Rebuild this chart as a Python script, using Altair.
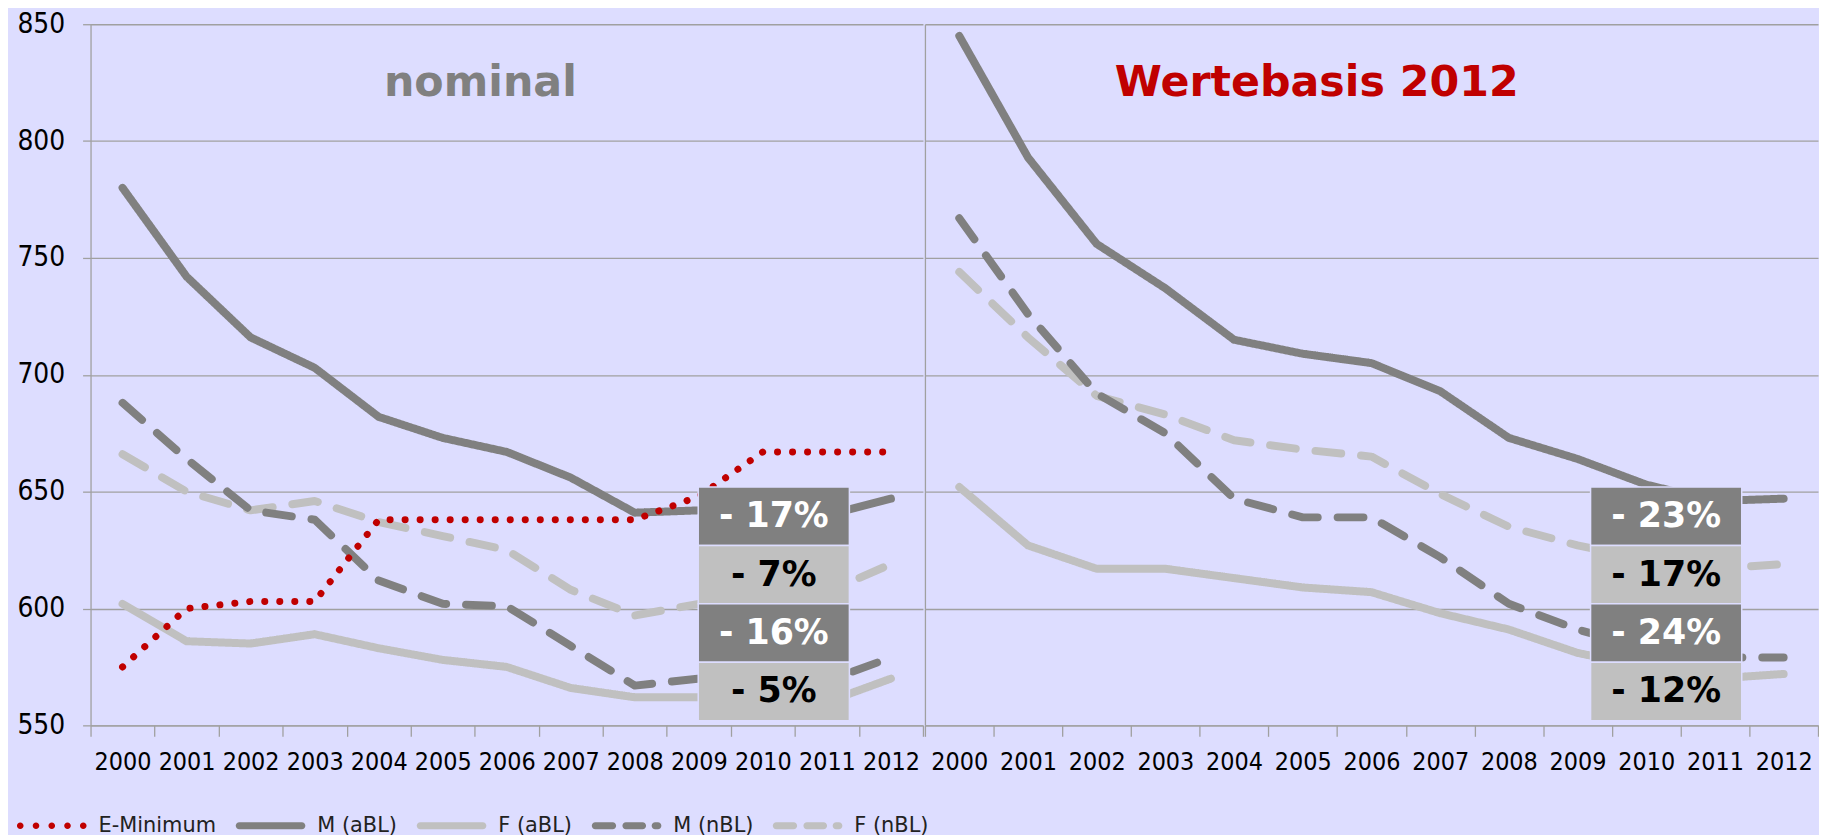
import altair as alt
import pandas as pd

# ---------------- data ----------------
years = [2000, 2001, 2002, 2003, 2004, 2005, 2006, 2007, 2008, 2009, 2010, 2011, 2012]
series_names = ["E-Minimum", "M (aBL)", "F (aBL)", "M (nBL)", "F (nBL)"]

# left panel: nominal
nom_e_min = [575, 600, 603, 603, 638, 638, 638, 638, 638, 648, 667, 667, 667]
nom_m_abl = [780, 742, 716, 703, 682, 673, 667, 656, 641, 642, 644, 640, 647]
nom_f_abl = [602, 586, 585, 589, 583, 578, 575, 566, 562, 562, 561, 560, 570]
nom_m_nbl = [688, 664, 642, 638, 612, 602, 601, 584, 567, 570, 571, 569, 579]
nom_f_nbl = [666, 650, 642, 646, 637, 631, 625, 608, 597, 602, 604, 607, 619]

# right panel: Wertebasis 2012
real_m_abl = [845, 793, 756, 737, 715, 709, 705, 693, 673, 664, 653, 646, 647]
real_f_abl = [652, 627, 617, 617, 613, 609, 607, 598, 591, 581, 575, 570, 572]
real_m_nbl = [767, 726, 692, 675, 647, 639, 639, 622, 602, 591, 583, 579, 579]
real_f_nbl = [744, 716, 691, 683, 672, 668, 665, 649, 635, 627, 621, 617, 619]

panel_titles = ["nominal", "Wertebasis 2012"]
nom_box_labels = ["- 17%", "- 7%", "- 16%", "- 5%"]
real_box_labels = ["- 23%", "- 17%", "- 24%", "- 12%"]
box_year = 2010

# ---------------- styles ----------------
BG = "#DDDDFF"
DARK = "#808080"
LIGHT = "#C0C0C0"
RED = "#C00000"
GRID = "#A0A0A0"
COND = "DejaVu Sans Condensed, DejaVu Sans"
SANS = "DejaVu Sans"

stroke_colors = [RED, DARK, LIGHT, DARK, LIGHT]
dashes = [[0.1, 15], [1, 0], [1, 0], [26, 20], [26, 20]]


def pill(x0, x1, r=0.1):
    return (f"M{x0 + r},{-r}L{x1 - r},{-r}A{r},{r} 0 0,1 {x1 - r},{r}"
            f"L{x0 + r},{r}A{r},{r} 0 0,1 {x0 + r},{-r}Z")


def dot(cx, r=0.095):
    return f"M{cx - r},0A{r},{r} 0 1,0 {cx + r},0A{r},{r} 0 1,0 {cx - r},0Z"


dots_path = "".join(dot(c) for c in [-0.905, -0.4525, 0, 0.4525, 0.905])
solid_path = pill(-1, 1)
dash_path = pill(-1, -0.3) + pill(-0.12, 0.56) + pill(0.72, 1.0)
legend_paths = [dots_path, solid_path, solid_path, dash_path, dash_path]


def long_df(d):
    rows = []
    for s, vals in d.items():
        for y, v in zip(years, vals):
            rows.append({"series": s, "year": y, "value": v})
    return pd.DataFrame(rows)


nom_df = long_df({"F (nBL)": nom_f_nbl, "M (nBL)": nom_m_nbl, "F (aBL)": nom_f_abl,
                  "M (aBL)": nom_m_abl, "E-Minimum": nom_e_min})
real_df = long_df({"F (nBL)": real_f_nbl, "M (nBL)": real_m_nbl, "F (aBL)": real_f_abl,
                   "M (aBL)": real_m_abl})


def box_df(labels):
    fills = [DARK, LIGHT, DARK, LIGHT]
    tcols = ["#FFFFFF", "#000000", "#FFFFFF", "#000000"]
    rows = []
    for i, lab in enumerate(labels):
        top = 652 - 25 * i
        rows.append({"year": box_year, "label": lab, "top": top, "bottom": top - 25,
                     "mid": top - 12.5, "fill": fills[i], "tcol": tcols[i]})
    return pd.DataFrame(rows)


xscale = alt.Scale(type="band", paddingInner=0, paddingOuter=0)
xaxis = alt.Axis(title=None, tickBand="extent", labelAngle=0, labelFont=COND,
                 labelFontSize=25, labelColor="#000000", labelPadding=13, tickSize=11,
                 tickColor=GRID, tickWidth=1.3, domainColor=GRID, domainWidth=1.3,
                 grid=False, labelOverlap=False)
yscale = alt.Scale(domain=[550, 850], nice=False, zero=False)
yvals = [550, 600, 650, 700, 750, 800, 850]


def panel(df, title, title_color, labels, width, box_dx, title_x, left):
    if left:
        yaxis = alt.Axis(title=None, values=yvals, labelFont=COND, labelFontSize=28,
                         labelColor="#000000", labelPadding=18, tickSize=8,
                         tickColor=GRID, tickWidth=1.3, domainColor=GRID,
                         domainWidth=1.3, gridColor=GRID, gridWidth=1.3,
                         minExtent=72, maxExtent=72)
    else:
        yaxis = alt.Axis(title=None, values=yvals, labels=False, ticks=False,
                         domainColor=GRID, domainWidth=1.3, gridColor=GRID,
                         gridWidth=1.3, minExtent=0, maxExtent=0)
    x_line = alt.X("year:O", bandPosition=0.5, scale=xscale, axis=xaxis)
    x_bar = alt.X("year:O", scale=xscale, axis=xaxis)
    y_enc = alt.Y("value:Q", scale=yscale, axis=yaxis)

    stroke_enc = alt.Stroke("series:N", scale=alt.Scale(domain=series_names, range=stroke_colors),
                            legend=None)
    dash_enc = alt.StrokeDash("series:N", scale=alt.Scale(domain=series_names, range=dashes),
                              legend=None)

    base = alt.Chart(df)
    lines = base.transform_filter(alt.datum.series != "E-Minimum").mark_line(
        strokeWidth=8, strokeCap="round", strokeJoin="round"
    ).encode(x=x_line, y=y_enc, stroke=stroke_enc, strokeDash=dash_enc)

    emin = base.transform_filter(alt.datum.series == "E-Minimum").mark_line(
        strokeWidth=7, strokeCap="round", strokeJoin="round"
    ).encode(x=x_line, y=y_enc, stroke=stroke_enc, strokeDash=dash_enc)

    bdf = box_df(labels)
    bars = alt.Chart(bdf).mark_bar(width=152, xOffset=box_dx, stroke=BG, strokeWidth=1.5).encode(
        x=x_bar,
        y=alt.Y("top:Q", scale=yscale, axis=yaxis),
        y2="bottom:Q",
        color=alt.Color("fill:N", scale=None),
    )
    btext = alt.Chart(bdf).mark_text(font=SANS, fontSize=35, fontWeight="bold",
                                     dx=box_dx, baseline="middle", align="center").encode(
        x=x_line,
        y=alt.Y("mid:Q", scale=yscale, axis=yaxis),
        text="label:N",
        color=alt.Color("tcol:N", scale=None),
    )
    ttl = alt.Chart(pd.DataFrame({"t": [title]})).mark_text(
        font=SANS, fontSize=43, fontWeight="bold", color=title_color,
        align="center", baseline="alphabetic"
    ).encode(x=alt.value(title_x), y=alt.value(72.5), text="t:N")

    layers = []
    if left:
        leg = alt.Legend(orient="none", legendX=-74, legendY=771, direction="horizontal",
                         title=None, symbolSize=4900, symbolStrokeWidth=0,
                         labelFont=SANS, labelFontSize=21, labelColor="#222222",
                         labelOffset=12, columnPadding=19, padding=0)
        legend_layer = base.transform_filter("false").mark_point(filled=True, opacity=1).encode(
            x=x_line, y=y_enc,
            fill=alt.Fill("series:N", scale=alt.Scale(domain=series_names, range=stroke_colors),
                          legend=leg),
            shape=alt.Shape("series:N", scale=alt.Scale(domain=series_names, range=legend_paths),
                            legend=leg),
        )
        layers.append(legend_layer)
    layers += [lines, emin, bars, btext, ttl]
    return alt.layer(*layers).properties(width=width, height=705)


left = panel(nom_df, panel_titles[0], DARK, nom_box_labels, 837, 11, 392, True)
right = panel(real_df, panel_titles[1], RED, real_box_labels, 898, 20, 394, False)

chart = alt.hconcat(left, right, spacing=0).properties(
    background=BG,
    padding={"left": 8, "top": 0, "right": 0, "bottom": 12},
).configure_view(stroke=None)

chart.save("out.html", embed_options={"renderer": "svg", "actions": False})
